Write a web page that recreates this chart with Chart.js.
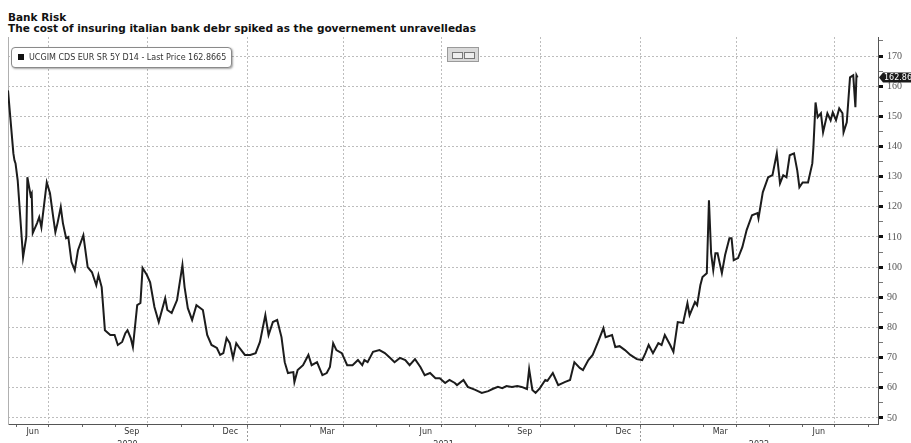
<!DOCTYPE html>
<html>
<head>
<meta charset="utf-8">
<script src="https://cdn.jsdelivr.net/npm/chart.js@4.4.0/dist/chart.umd.min.js"></script>
<style>
html,body{margin:0;padding:0;width:911px;height:443px;overflow:hidden;background:#fff;}
#wrap{position:absolute;left:0;top:0;width:911px;height:460px;}
.t{position:absolute;left:8px;font-family:"DejaVu Sans";font-weight:bold;font-size:10.5px;line-height:12px;color:#111;white-space:nowrap;}
#legend{position:absolute;left:11px;top:47px;width:219px;height:19px;border:1px solid #8a8a8a;border-radius:4px;background:#fff;box-shadow:1px 1px 2px rgba(0,0,0,0.35);font-family:"DejaVu Sans";font-size:8px;color:#333;line-height:19px;white-space:nowrap;}
#legend .sw{display:inline-block;width:6px;height:6px;background:#111;margin:0 5px 0 6px;}
#tool{position:absolute;left:447px;top:47px;width:30px;height:13px;background:#d9d9d9;border:1px solid #9a9a9a;}
#tool span{position:absolute;top:4px;width:9px;height:5px;border:1px solid #777;background:#eee;}
</style>
</head>
<body>
<div class="t" style="top:11px">Bank Risk</div>
<div class="t" style="top:22px">The cost of insuring italian bank debr spiked as the governement unravelledas</div>
<div id="wrap"><canvas id="c" width="911" height="460"></canvas></div>
<div id="legend"><span class="sw"></span><span id="legtxt"></span></div>
<div id="tool"><span style="left:4px"></span><span style="left:16px"></span></div>
<script>
// ---------- data ----------
const seriesName = 'UCGIM CDS EUR SR 5Y D14';
const lastPrice = 162.8665;

const dates = [
'2020-05-24','2020-05-29','2020-05-30','2020-05-31',
'2020-06-02','2020-06-07','2020-06-10','2020-06-11','2020-06-14','2020-06-15','2020-06-16','2020-06-20','2020-06-22','2020-06-24','2020-06-29',
'2020-07-02','2020-07-05','2020-07-07','2020-07-09','2020-07-12','2020-07-14','2020-07-17','2020-07-19','2020-07-22','2020-07-25','2020-07-28',
'2020-08-02','2020-08-03','2020-08-06','2020-08-10','2020-08-14','2020-08-16','2020-08-19','2020-08-22','2020-08-27','2020-08-31',
'2020-09-03','2020-09-07','2020-09-10','2020-09-12','2020-09-15','2020-09-17','2020-09-21','2020-09-24','2020-09-26','2020-09-30',
'2020-10-03','2020-10-07','2020-10-11','2020-10-17','2020-10-19','2020-10-23','2020-10-28',
'2020-11-02','2020-11-04','2020-11-07','2020-11-11','2020-11-15','2020-11-21','2020-11-25','2020-11-29',
'2020-12-04','2020-12-07','2020-12-10','2020-12-13','2020-12-16','2020-12-19','2020-12-22','2020-12-25','2020-12-30',
'2021-01-04','2021-01-09','2021-01-13','2021-01-18','2021-01-21','2021-01-25','2021-01-29',
'2021-02-02','2021-02-05','2021-02-08','2021-02-13','2021-02-14','2021-02-17','2021-02-22','2021-02-27',
'2021-03-02','2021-03-07','2021-03-12','2021-03-16','2021-03-19','2021-03-22','2021-03-25','2021-03-30',
'2021-04-04','2021-04-09','2021-04-14','2021-04-18','2021-04-20','2021-04-23','2021-04-28',
'2021-05-04','2021-05-09','2021-05-14','2021-05-18','2021-05-23','2021-05-28',
'2021-06-01','2021-06-06','2021-06-11','2021-06-15','2021-06-20','2021-06-25','2021-06-29',
'2021-07-04','2021-07-08','2021-07-13','2021-07-15','2021-07-21','2021-07-25',
'2021-08-01','2021-08-07','2021-08-13','2021-08-17','2021-08-22','2021-08-26','2021-08-30',
'2021-09-04','2021-09-09','2021-09-13','2021-09-18','2021-09-20','2021-09-23','2021-09-26','2021-09-30',
'2021-10-05','2021-10-07','2021-10-12','2021-10-17','2021-10-23','2021-10-28',
'2021-11-01','2021-11-06','2021-11-09','2021-11-14','2021-11-18','2021-11-23','2021-11-28','2021-11-30',
'2021-12-06','2021-12-09','2021-12-13','2021-12-18','2021-12-23','2021-12-29',
'2022-01-03','2022-01-06','2022-01-09','2022-01-13','2022-01-18','2022-01-21','2022-01-24','2022-01-29',
'2022-02-01','2022-02-05','2022-02-10','2022-02-14','2022-02-16','2022-02-21','2022-02-23','2022-02-26','2022-02-28',
'2022-03-04','2022-03-06','2022-03-08','2022-03-10','2022-03-12','2022-03-14','2022-03-18','2022-03-21','2022-03-25','2022-03-27','2022-03-29',
'2022-04-02','2022-04-06','2022-04-10','2022-04-15','2022-04-20','2022-04-21','2022-04-25','2022-04-30',
'2022-05-04','2022-05-08','2022-05-11','2022-05-14','2022-05-17','2022-05-20','2022-05-24','2022-05-27','2022-05-29',
'2022-06-01','2022-06-06','2022-06-10','2022-06-11','2022-06-13','2022-06-15','2022-06-18','2022-06-20','2022-06-24','2022-06-27','2022-06-29',
'2022-07-02','2022-07-05','2022-07-08','2022-07-09','2022-07-12','2022-07-15','2022-07-18','2022-07-20','2022-07-21','2022-07-22'
];

const cdsValues = [
158.6,137.7,135.4,134.4,
128.8,103.3,110,129.8,123.8,124.5,111.3,114.6,116.6,113.2,128.1,
124.5,116.6,111.6,114.6,119.9,114.6,109.6,110,101.7,99,105.6,
110.6,107.9,100,98.3,94,97.4,93.4,79.1,77.5,77.5,
74.2,75.2,78.1,79.1,76.5,73.5,87.4,88.1,99.7,97.4,
95,86.8,81.8,89.7,85.8,84.8,89.1,
100.7,93.4,86.4,82.5,87.4,85.8,77.5,74.2,
73.2,70.9,71.5,76.5,74.8,69.9,74.8,73.2,70.9,
70.9,71.5,75.2,84.1,77.5,81.8,82.5,
76.8,68.5,64.9,65.2,61.9,65.9,67.5,70.9,
67.5,68.5,64.2,64.9,66.9,74.8,72.5,71.5,
67.5,67.5,69.2,67.5,69.2,68.5,71.9,
72.5,71.5,69.9,68.5,69.9,69.2,
67.5,69.5,66.9,64.2,64.9,63.2,63.2,
61.6,62.6,61.6,60.9,62.6,60.3,
59.3,58.3,58.9,59.6,60.3,59.9,60.6,
60.3,60.6,60.3,59.6,66.2,59.3,58.3,59.9,
62.6,62.3,64.9,60.9,61.9,62.6,
68.5,66.6,65.9,69.2,70.9,75.2,79.8,76.8,
77.5,73.5,73.8,72.5,70.9,69.5,
69.2,71.5,74.2,71.5,74.8,74.2,77.5,74.2,
71.9,81.8,81.5,88.1,84.1,88.4,87.4,94,96.7,
98,122.2,104.6,99,104.6,104.6,98,104,109.6,109.6,102.3,
103,106.6,112.3,117.2,117.9,116.2,124.8,129.8,
130.5,137.7,127.8,130.5,129.8,137.1,137.7,132.1,126.5,
128.1,128.1,134.4,139.7,154.6,149.7,151,144.7,151,148.7,151.3,
148.7,152.6,151,144.7,148,162.9,163.6,153,163.6,162.8665
];

const yTickValues = [50,55,60,65,70,75,80,85,90,95,100,105,110,115,120,125,130,135,140,145,150,155,160,165,170,175];
const monthNames = ['Jan','Feb','Mar','Apr','May','Jun','Jul','Aug','Sep','Oct','Nov','Dec'];
const labelledMonths = [2,5,8,11]; // Mar, Jun, Sep, Dec
const years = [2020,2021,2022];
const xStart = '2020-05-24';
const xEnd = '2022-08-10';
const yMin = 48, yMax = 176.3;

// ---------- helpers ----------
const DAY = 86400000;
const toDay = s => { const p = s.split('-').map(Number); return Date.UTC(p[0], p[1]-1, p[2]) / DAY; };
const xMin = toDay(xStart), xMax = toDay(xEnd);
const mStart = (y, m) => Date.UTC(y, m, 1) / DAY;

const monthStarts = [], quarterSet = new Set(), monthLabelTicks = [], yearTicks = [];
years.forEach(y => {
  for (let m = 0; m < 12; m++) {
    const v = mStart(y, m);
    if (v >= xMin && v <= xMax) { monthStarts.push(v); if (m % 3 === 0) quarterSet.add(v); }
    if (labelledMonths.includes(m)) {
      const c = (v + mStart(y, m + 1)) / 2;
      if (c > xMin && c < xMax) monthLabelTicks.push({ value: c, label: monthNames[m], sep: false });
    }
  }
  const a = Math.max(xMin, mStart(y, 0)), b = Math.min(xMax, mStart(y + 1, 0));
  if (b > a) yearTicks.push({ value: (a + b) / 2, label: String(y) });
  if (mStart(y, 0) > xMin && mStart(y, 0) < xMax) monthLabelTicks.push({ value: mStart(y, 0), label: '', sep: true });
});
monthLabelTicks.sort((p, q) => p.value - q.value);

document.getElementById('legtxt').textContent = seriesName + ' - Last Price ' + lastPrice.toFixed(4);

const points = dates.map((d, i) => ({ x: toDay(d), y: cdsValues[i] }));

const lastPricePlugin = {
  id: 'lastPrice',
  afterDraw(chart) {
    const ys = chart.scales.y, ctx = chart.ctx;
    const py = ys.getPixelForValue(lastPrice);
    const x0 = ys.left + 1;
    ctx.save();
    ctx.fillStyle = '#1a1a1a';
    ctx.beginPath();
    ctx.moveTo(x0, py);
    ctx.lineTo(x0 + 4, py - 5);
    ctx.lineTo(x0 + 45, py - 5);
    ctx.lineTo(x0 + 45, py + 5);
    ctx.lineTo(x0 + 4, py + 5);
    ctx.closePath();
    ctx.fill();
    ctx.fillStyle = '#fff';
    ctx.font = '8px "DejaVu Sans"';
    ctx.textBaseline = 'middle';
    ctx.fillText((Math.floor(lastPrice * 100) / 100).toFixed(2), x0 + 5, py + 0.5);
    ctx.restore();
  }
};

const GRID = '#bdbdbd';
new Chart(document.getElementById('c'), {
  type: 'line',
  data: {
    datasets: [{
      label: seriesName,
      data: points,
      xAxisID: 'x', yAxisID: 'y',
      borderColor: '#1c1c1c', borderWidth: 2,
      pointRadius: 0, tension: 0, fill: false
    }]
  },
  options: {
    responsive: false,
    animation: false,
    layout: { padding: { top: 37, left: 8, right: 0, bottom: 0 } },
    plugins: { legend: { display: false }, tooltip: { enabled: false }, title: { display: false } },
    scales: {
      x: {
        type: 'linear', position: 'bottom', min: xMin, max: xMax, weight: 0,
        afterBuildTicks: s => { s.ticks = monthStarts.map(v => ({ value: v })); },
        afterFit: s => { s.height = 3; },
        ticks: { display: false, autoSkip: false },
        grid: {
          color: c => (c.tick && quarterSet.has(c.tick.value)) ? GRID : 'rgba(0,0,0,0)',
          lineWidth: 1, drawTicks: true, tickLength: 3, tickColor: '#666', tickWidth: 1
        },
        border: { display: true, color: '#555', width: 1, dash: [2, 2] }
      },
      xm: {
        type: 'linear', position: 'bottom', min: xMin, max: xMax, weight: 1,
        afterBuildTicks: s => { s.ticks = monthLabelTicks.map(t => ({ value: t.value })); },
        afterFit: s => { s.height = 13; },
        ticks: {
          autoSkip: false, maxRotation: 0, padding: -20, color: '#333',
          font: { family: 'DejaVu Sans', size: 8 },
          callback: (v, i) => monthLabelTicks[i] ? monthLabelTicks[i].label : ''
        },
        grid: {
          drawOnChartArea: false, drawTicks: true, tickLength: 20,
          tickColor: c => (c.tick && monthLabelTicks[c.index] && monthLabelTicks[c.index].sep) ? '#999' : 'rgba(0,0,0,0)',
          tickBorderDash: [2, 2], tickWidth: 1
        },
        border: { display: false }
      },
      xy: {
        type: 'linear', position: 'bottom', min: xMin, max: xMax, weight: 2,
        afterBuildTicks: s => { s.ticks = yearTicks.map(t => ({ value: t.value })); },
        afterFit: s => { s.height = 20; },
        ticks: {
          autoSkip: false, maxRotation: 0, padding: 0, color: '#333',
          font: { family: 'DejaVu Sans', size: 8 },
          callback: (v, i) => yearTicks[i] ? yearTicks[i].label : ''
        },
        grid: { display: false, drawTicks: false },
        border: { display: false }
      },
      y: {
        type: 'linear', position: 'right', min: yMin, max: yMax,
        afterBuildTicks: s => { s.ticks = yTickValues.map(v => ({ value: v })); },
        afterFit: s => { s.width = 33; },
        ticks: {
          autoSkip: false, padding: 4, color: '#555',
          font: { family: 'Liberation Serif', size: 10 },
          callback: v => (v % 10 === 0) ? String(v) : ''
        },
        grid: {
          color: c => (c.tick && c.tick.value % 10 === 0) ? GRID : 'rgba(0,0,0,0)',
          lineWidth: 1, tickLength: 5,
          tickColor: c => (c.tick && c.tick.value % 10 === 0) ? '#111' : '#777',
          tickWidth: c => (c.tick && c.tick.value % 10 === 0) ? 3 : 1
        },
        border: { display: true, color: '#555', width: 1, dash: [2, 2] }
      },
      yl: {
        type: 'linear', position: 'left', min: 0, max: 1,
        afterFit: s => { s.width = 0; },
        ticks: { display: false },
        grid: { drawOnChartArea: false, drawTicks: false },
        border: { display: true, color: '#b0b0b0', width: 1 }
      }
    }
  },
  plugins: [lastPricePlugin]
});
</script>
</body>
</html>
